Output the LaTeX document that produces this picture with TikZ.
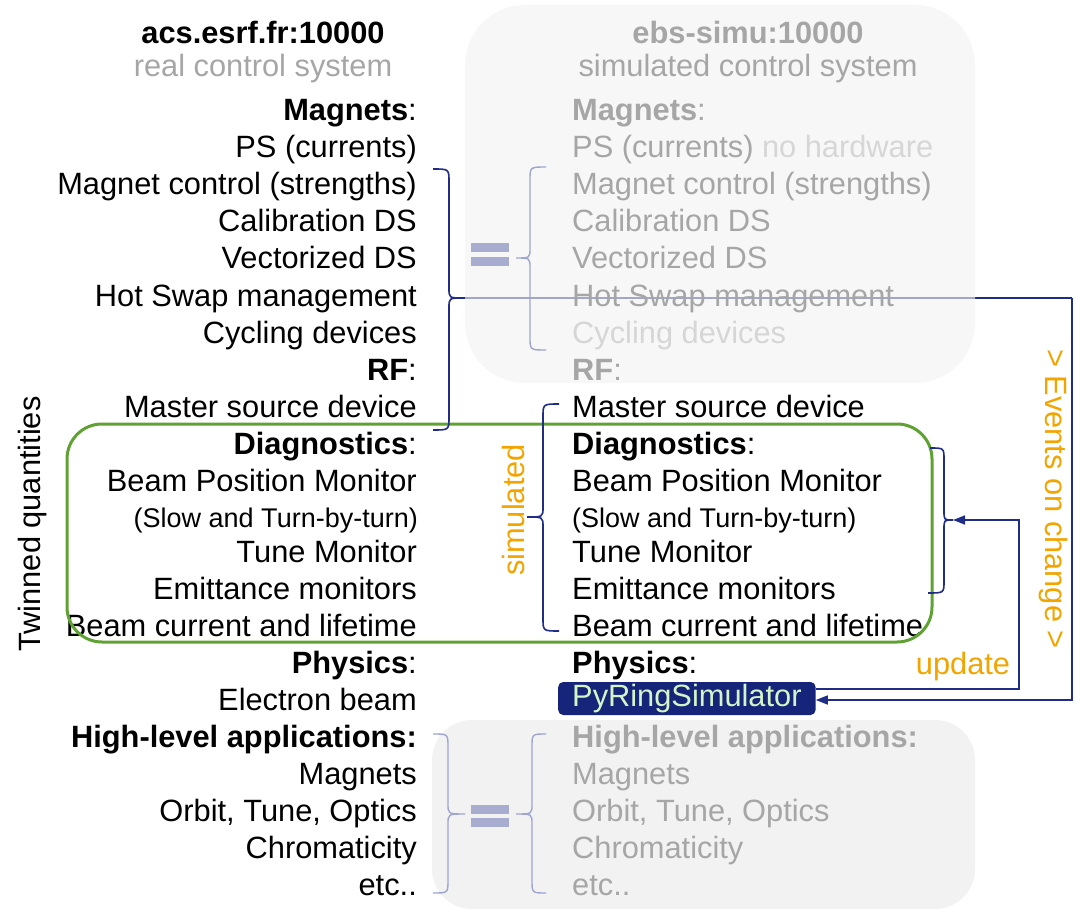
\documentclass[tikz,border=0pt]{standalone}
\usepackage{fontspec}
\setmainfont{Liberation Sans}
\usetikzlibrary{arrows.meta}
\definecolor{navy}{HTML}{1F2D86}
\definecolor{boxnavy}{HTML}{16247A}
\definecolor{lightnavy}{HTML}{9EA5CF}
\definecolor{eqcol}{HTML}{A8ADD0}
\definecolor{graybox}{HTML}{F2F2F3}
\definecolor{graytxt}{HTML}{A6A6A6}
\definecolor{vlight}{HTML}{D6D6D6}
\definecolor{orng}{HTML}{F2A400}
\definecolor{grn}{HTML}{5FA233}
\definecolor{pyrtxt}{HTML}{D4F5C6}
\newcommand{\fsz}{\fontsize{30.8}{37}\selectfont}
\newcommand{\smz}{\fontsize{27}{32}\selectfont}
\tikzset{
  every node/.style={font=\fsz, inner sep=0pt},
  lcol/.style={anchor=base east, text=black},
  rcol/.style={anchor=base west, text=black},
  rgray/.style={anchor=base west, text=graytxt},
  brc/.style={draw=navy, line width=1.6pt},
  lbrc/.style={draw=lightnavy, line width=1.4pt},
  conn/.style={draw=navy, line width=1.5pt},
  tip/.style={-{Triangle[length=12pt,width=9pt]}},
  eqbar/.style={fill=eqcol, draw=none},
  otxt/.style={text=orng}
}
\begin{document}
\begin{tikzpicture}[x=1pt,y=-1pt]
\useasboundingbox (0,0) rectangle (1076,909);
% brace tip coordinates
\coordinate (magtip) at (463,298);
\coordinate (diagtip) at (953,520);
\coordinate (c1) at (1072,298);
\coordinate (c2) at (1019,520);
% connectors (drawn under the translucent boxes)
\draw[conn] (magtip) -- (c1);
% gray boxes
\fill[graybox, fill opacity=0.62, rounded corners=60pt] (465,5) rectangle (975,383);
\fill[graybox, rounded corners=40pt] (432,720) rectangle (975,909);
% headers
\node[font=\fsz\bfseries] (h1) at (263,32) {acs.esrf.fr:10000};
\node[text=graytxt] (h2) at (263,69) {real control system};
\node[font=\fsz\bfseries, text=graytxt] (h3) at (748,32) {ebs-simu:10000};
\node[text=graytxt] (h4) at (748,69) {simulated control system};
% left column
\node[lcol] (l2) at (417,121) {\textbf{Magnets}:};
\node[lcol] (l3) at (417,158) {PS (currents)};
\node[lcol] (l4) at (417,195) {Magnet control (strengths)};
\node[lcol] (l5) at (417,232) {Calibration DS};
\node[lcol] (l6) at (417,269) {Vectorized DS};
\node[lcol] (l7) at (417,306) {Hot Swap management};
\node[lcol] (l8) at (417,343) {Cycling devices};
\node[lcol] (l9) at (417,380) {\textbf{RF}:};
\node[lcol] (l10) at (417,417) {Master source device};
\node[lcol] (l11) at (417,454) {\textbf{Diagnostics}:};
\node[lcol] (l12) at (417,491) {Beam Position Monitor};
\node[lcol, font=\smz] (l13) at (418,527) {(Slow and Turn-by-turn)};
\node[lcol] (l14) at (417,562) {Tune Monitor};
\node[lcol] (l15) at (417,599) {Emittance monitors};
\node[lcol] (l16) at (417,636) {Beam current and lifetime};
\node[lcol] (l17) at (417,673) {\textbf{Physics}:};
\node[lcol] (l18) at (417,710) {Electron beam};
\node[lcol] (l19) at (417,747) {\textbf{High-level applications:}};
\node[lcol] (l20) at (417,784) {Magnets};
\node[lcol] (l21) at (417,821) {Orbit, Tune, Optics};
\node[lcol] (l22) at (417,858) {Chromaticity};
\node[lcol] (l23) at (417,895) {etc..};
% right column
\node[rgray] (r2) at (572,121) {\textbf{Magnets}:};
\node[rgray] (r3) at (572,158) {PS (currents)};
\node[anchor=base west, text=vlight] (nohw) at ([xshift=8pt]r3.base east) {no hardware};
\node[rgray] (r4) at (572,195) {Magnet control (strengths)};
\node[rgray] (r5) at (572,232) {Calibration DS};
\node[rgray] (r6) at (572,269) {Vectorized DS};
\node[rgray] (r7) at (572,306) {Hot Swap management};
\node[anchor=base west, text=vlight] (r8) at (572,343) {Cycling devices};
\node[rgray] (r9) at (572,380) {\textbf{RF}:};
\node[rcol] (r10) at (572,417) {Master source device};
\node[rcol] (r11) at (572,454) {\textbf{Diagnostics}:};
\node[rcol] (r12) at (572,491) {Beam Position Monitor};
\node[rcol, font=\smz] (r13) at (572,527) {(Slow and Turn-by-turn)};
\node[rcol] (r14) at (572,562) {Tune Monitor};
\node[rcol] (r15) at (572,599) {Emittance monitors};
\node[rcol] (r16) at (572,636) {Beam current and lifetime};
\node[rcol] (r17) at (572,673) {\textbf{Physics}:};
\node[anchor=west, fill=boxnavy, text=pyrtxt, rounded corners=5pt, inner xsep=14pt, minimum height=33pt] (pyr) at (558,698.5) {PyRingSimulator};
\node[rgray] (r19) at (572,747) {\textbf{High-level applications:}};
\node[rgray] (r20) at (572,784) {Magnets};
\node[rgray] (r21) at (572,821) {Orbit, Tune, Optics};
\node[rgray] (r22) at (572,858) {Chromaticity};
\node[rgray] (r23) at (572,895) {etc..};
% rotated labels
\node[rotate=90] (twin) at (33,524) {Twinned quantities};
\node[rotate=90, otxt] (sim) at (513,510) {simulated};
\node[rotate=-90, otxt] (ev) at (1053,499) {> Events on change >};
\node[otxt] (upd) at (963,667) {update};
% green box
\draw[grn, line width=3pt, rounded corners=35pt] (67,424) rectangle (932,642);
% magnets brace (left, facing right)
\draw[brc] (433,169) .. controls (449,169) .. (449,182) -- (449,288) .. controls (449,298) .. (magtip)
  .. controls (449,298) .. (449,308) -- (449,417) .. controls (449,430) .. (433,430);
% magnets brace in box (facing left)
\draw[lbrc] (546,167) .. controls (530,167) .. (530,180) -- (530,248) .. controls (530,258) .. (516,258)
  .. controls (530,258) .. (530,268) -- (530,337) .. controls (530,350) .. (546,350);
% equal signs
\fill[eqbar] (471,243) rectangle (509,252);
\fill[eqbar] (471,257) rectangle (509,266);
\fill[eqbar] (471,805) rectangle (509,814);
\fill[eqbar] (471,818) rectangle (509,827);
% simulated brace (facing left)
\draw[brc] (559,404) .. controls (543,404) .. (543,417) -- (543,507) .. controls (543,517) .. (527,517)
  .. controls (543,517) .. (543,527) -- (543,618) .. controls (543,631) .. (559,631);
% diagnostics brace (facing right)
\draw[brc] (930,448) .. controls (944,448) .. (944,460) -- (944,511) .. controls (944,520) .. (diagtip)
  .. controls (944,520) .. (944,529) -- (944,581) .. controls (944,593) .. (928,593);
% high-level braces
\draw[lbrc] (433,734) .. controls (448,734) .. (448,747) -- (448,804) .. controls (448,814) .. (465,814)
  .. controls (448,814) .. (448,824) -- (448,880) .. controls (448,893) .. (433,893);
\draw[lbrc] (546,734) .. controls (532,734) .. (532,747) -- (532,804) .. controls (532,814) .. (516,814)
  .. controls (532,814) .. (532,824) -- (532,880) .. controls (532,893) .. (546,893);
% connectors
\draw[conn, tip] (c1) |- ([yshift=-1.5pt]pyr.east);
\draw[conn, tip] ([yshift=9.5pt]pyr.east) -| (c2) -- (diagtip);
\end{tikzpicture}
\end{document}
